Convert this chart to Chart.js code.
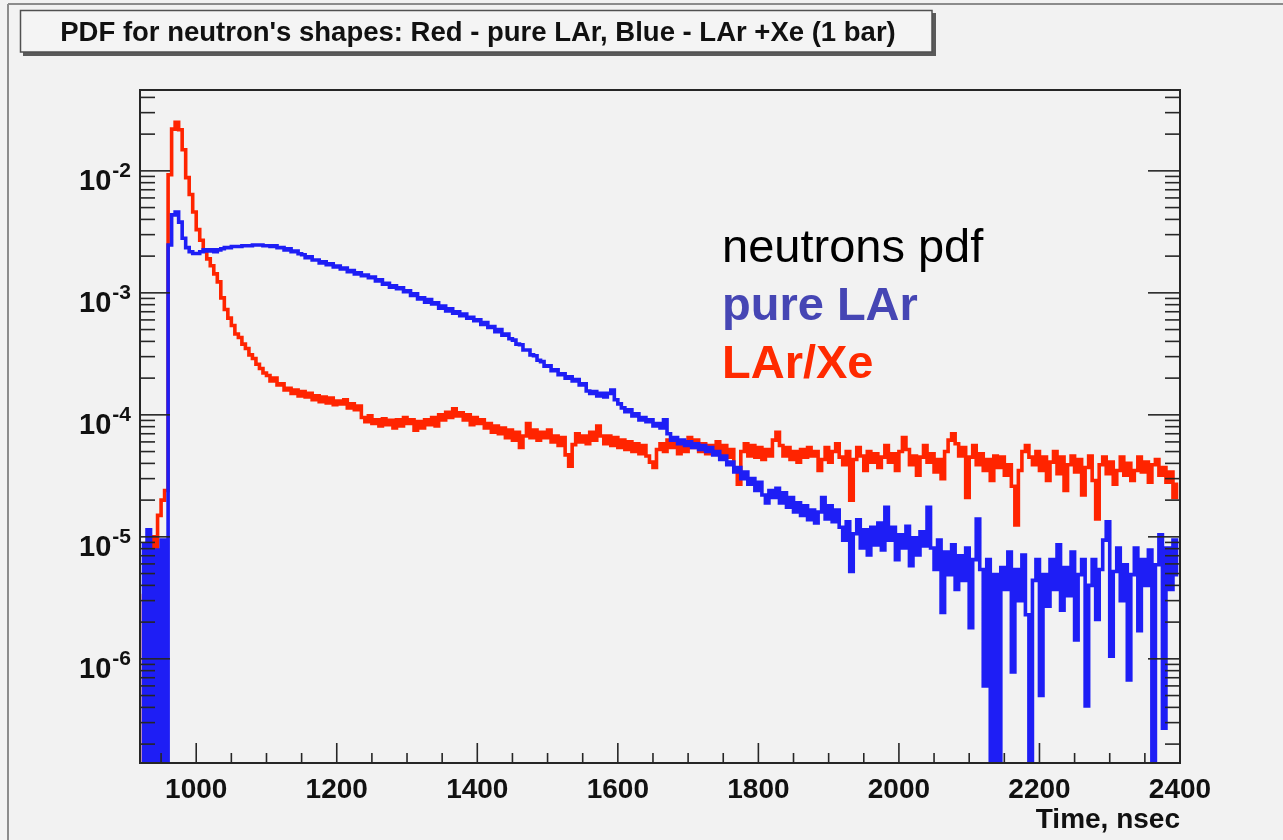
<!DOCTYPE html>
<html><head><meta charset="utf-8">
<script src="https://cdn.jsdelivr.net/npm/chart.js@4.4.1/dist/chart.umd.min.js"></script>
<style>html,body{margin:0;padding:0;background:#f2f2f2;overflow:hidden}canvas{display:block}</style>
</head><body>
<canvas id="c" width="1283" height="840"></canvas>
<script>
// ---- text ----
const titleText = "PDF for neutron's shapes: Red - pure LAr, Blue - LAr +Xe (1 bar)";
const xAxisTitle = "Time, nsec";
const noteLines = ["neutrons pdf", "pure LAr", "LAr/Xe"];
// ---- axes ----
const xTickLabels = [1000, 1200, 1400, 1600, 1800, 2000, 2200, 2400];
const yDecadeExponents = [-2, -3, -4, -5, -6];
const xRange = [920, 2400];
const yRange = [1.4e-7, 0.046];
// ---- histogram binning (5 ns bins from 920 ns) ----
const binStart = 920;
const binWidth = 5;
// ---- red histogram ----
const redValues = [
3.3e-6,0,4.4e-6,1.0e-5,4.9e-6,1.5e-5,2.0e-5,2.4e-5,9.3e-3,0.022,
0.025,0.0217,0.0149,0.0088,0.0064,0.0046,0.0033,0.0027,0.00225,0.0019,
0.00167,0.00143,0.00123,0.00091,0.00073,0.00062,0.00054,0.00046,0.00043,0.00038,
0.00035,0.00031,0.00029,0.00026,0.00024,0.00022,0.00021,0.00019,0.00020,0.000176,
0.00018,0.00016,0.000165,0.00015,0.00016,0.000143,0.000155,0.00014,0.00015,0.000133,
0.000143,0.000128,0.00014,0.000125,0.000137,0.000121,0.00013,0.000123,0.000133,0.000114,
0.000123,0.00011,0.000118,9.5e-5,8.8e-5,9.8e-5,8.5e-5,9.1e-5,8.1e-5,9.3e-5,
8.3e-5,9.0e-5,7.8e-5,9.1e-5,8.1e-5,9.5e-5,8.5e-5,9.1e-5,7.5e-5,8.8e-5,
7.8e-5,9.1e-5,8.3e-5,9.5e-5,8.1e-5,1.0e-4,9.1e-5,1.05e-4,9.5e-5,1.12e-4,
9.8e-5,1.04e-4,9.1e-5,1.0e-4,8.3e-5,9.5e-5,8.5e-5,9.1e-5,7.8e-5,8.5e-5,
7.2e-5,8.1e-5,7.0e-5,7.8e-5,6.5e-5,7.5e-5,6.2e-5,7.2e-5,5.4e-5,6.7e-5,
8.5e-5,6.5e-5,7.5e-5,6.2e-5,7.2e-5,6.5e-5,7.5e-5,6.0e-5,6.7e-5,5.6e-5,
6.5e-5,4.7e-5,3.8e-5,5.7e-5,7.0e-5,6.0e-5,6.7e-5,5.8e-5,7.2e-5,6.2e-5,
8.1e-5,6.7e-5,5.8e-5,6.7e-5,5.6e-5,6.5e-5,5.4e-5,6.2e-5,5.2e-5,6.0e-5,
5.0e-5,5.8e-5,4.8e-5,5.6e-5,4.6e-5,4.1e-5,3.7e-5,5.2e-5,5.8e-5,5.0e-5,
6.2e-5,5.4e-5,6.0e-5,4.8e-5,5.6e-5,5.0e-5,6.5e-5,5.4e-5,6.2e-5,5.0e-5,
5.8e-5,4.8e-5,5.6e-5,5.0e-5,6.0e-5,4.6e-5,5.6e-5,4.5e-5,5.2e-5,3.5e-5,
2.7e-5,5.0e-5,5.8e-5,4.6e-5,5.6e-5,4.5e-5,5.4e-5,4.3e-5,5.2e-5,4.6e-5,
6.2e-5,7.2e-5,5.6e-5,4.6e-5,5.4e-5,4.3e-5,5.0e-5,4.1e-5,5.2e-5,4.5e-5,
5.4e-5,4.6e-5,5.0e-5,3.5e-5,4.3e-5,5.4e-5,4.1e-5,5.0e-5,5.8e-5,4.5e-5,
3.9e-5,5.0e-5,2.0e-5,4.3e-5,5.4e-5,4.6e-5,3.5e-5,5.0e-5,4.1e-5,4.8e-5,
3.7e-5,4.5e-5,5.6e-5,4.1e-5,4.8e-5,3.5e-5,5.0e-5,6.5e-5,5.2e-5,3.9e-5,
4.6e-5,3.2e-5,4.5e-5,5.6e-5,4.1e-5,4.8e-5,3.4e-5,4.3e-5,3.0e-5,5.0e-5,
6.2e-5,7.0e-5,5.8e-5,4.6e-5,5.4e-5,2.1e-5,4.5e-5,5.6e-5,3.9e-5,4.8e-5,
3.5e-5,4.3e-5,2.9e-5,4.6e-5,3.7e-5,4.5e-5,3.2e-5,3.9e-5,2.6e-5,1.25e-5,
3.5e-5,5.0e-5,5.6e-5,4.5e-5,3.9e-5,5.0e-5,3.5e-5,4.5e-5,2.9e-5,4.1e-5,
5.0e-5,3.3e-5,4.5e-5,2.4e-5,3.9e-5,4.6e-5,3.4e-5,4.3e-5,2.2e-5,3.7e-5,
4.6e-5,2.9e-5,1.4e-5,3.9e-5,4.5e-5,3.3e-5,4.1e-5,2.7e-5,3.5e-5,4.5e-5,
3.2e-5,4.0e-5,2.9e-5,3.5e-5,4.5e-5,3.4e-5,4.1e-5,2.8e-5,3.9e-5,4.3e-5,
3.2e-5,3.7e-5,2.8e-5,3.4e-5,2.1e-5,2.7e-5
];
// ---- blue histogram ----
const blueValues = [
8.6e-6,0,1.14e-5,0,7.8e-6,0,9.4e-6,0,2.47e-3,4.36e-3,
4.6e-3,3.8e-3,2.8e-3,2.35e-3,2.17e-3,2.1e-3,2.1e-3,2.17e-3,2.25e-3,2.2e-3,
2.25e-3,2.17e-3,2.25e-3,2.3e-3,2.35e-3,2.35e-3,2.4e-3,2.4e-3,2.4e-3,2.43e-3,
2.43e-3,2.43e-3,2.47e-3,2.47e-3,2.47e-3,2.43e-3,2.43e-3,2.4e-3,2.43e-3,2.35e-3,
2.35e-3,2.25e-3,2.3e-3,2.17e-3,2.2e-3,2.09e-3,2.05e-3,1.94e-3,1.97e-3,1.86e-3,
1.86e-3,1.76e-3,1.8e-3,1.7e-3,1.73e-3,1.63e-3,1.66e-3,1.57e-3,1.6e-3,1.49e-3,
1.52e-3,1.43e-3,1.46e-3,1.38e-3,1.4e-3,1.33e-3,1.35e-3,1.25e-3,1.28e-3,1.18e-3,
1.2e-3,1.11e-3,1.14e-3,1.08e-3,1.1e-3,1.02e-3,1.04e-3,9.5e-4,9.8e-4,8.9e-4,
9.1e-4,8.4e-4,8.8e-4,8.1e-4,8.3e-4,7.5e-4,7.8e-4,7.1e-4,7.4e-4,6.8e-4,
7.0e-4,6.5e-4,6.7e-4,6.2e-4,6.3e-4,5.9e-4,6.0e-4,5.5e-4,5.7e-4,5.2e-4,
5.3e-4,4.8e-4,5.0e-4,4.5e-4,4.6e-4,4.2e-4,4.1e-4,3.8e-4,3.75e-4,3.4e-4,
3.4e-4,3.1e-4,3.05e-4,2.8e-4,2.73e-4,2.5e-4,2.52e-4,2.3e-4,2.34e-4,2.13e-4,
2.17e-4,2.0e-4,2.05e-4,1.9e-4,1.95e-4,1.76e-4,1.8e-4,1.57e-4,1.5e-4,1.55e-4,
1.43e-4,1.5e-4,1.4e-4,1.5e-4,1.6e-4,1.33e-4,1.23e-4,1.14e-4,1.06e-4,1.1e-4,
9.8e-5,1.02e-4,9.1e-5,9.5e-5,8.8e-5,9.1e-5,8.1e-5,8.5e-5,7.8e-5,9.1e-5,
7.0e-5,6.2e-5,6.5e-5,5.8e-5,6.2e-5,5.6e-5,6.0e-5,5.4e-5,5.8e-5,5.2e-5,
5.6e-5,5.0e-5,5.4e-5,4.7e-5,5.0e-5,4.3e-5,4.6e-5,3.9e-5,4.1e-5,3.4e-5,
3.7e-5,3.0e-5,3.4e-5,2.7e-5,3.0e-5,2.4e-5,2.8e-5,2.2e-5,1.9e-5,2.4e-5,
2.1e-5,2.5e-5,1.9e-5,2.3e-5,1.75e-5,2.1e-5,1.6e-5,1.9e-5,1.5e-5,1.8e-5,
1.38e-5,1.66e-5,1.3e-5,1.6e-5,2.1e-5,1.4e-5,1.8e-5,1.33e-5,1.66e-5,1.2e-5,
9.4e-6,1.33e-5,5.2e-6,1.06e-5,1.38e-5,8.1e-6,1.14e-5,7.1e-6,1.2e-5,8.6e-6,
1.3e-5,7.8e-6,1.75e-5,9.4e-6,1.2e-5,6.5e-6,1.04e-5,8.1e-6,1.22e-5,5.8e-6,
9.8e-6,7.1e-6,1.1e-5,8.4e-6,1.75e-5,8.1e-6,5.4e-6,9.4e-6,2.4e-6,7.5e-6,
4.9e-6,8.6e-6,3.7e-6,7.0e-6,4.4e-6,8.1e-6,1.8e-6,6.5e-6,1.4e-5,5.4e-6,
6.0e-7,6.5e-6,0,4.9e-6,0,5.6e-6,3.7e-6,7.5e-6,7.8e-7,5.4e-6,
3.0e-6,7.1e-6,2.3e-6,0,4.4e-6,6.5e-6,5.0e-7,4.9e-6,2.7e-6,6.5e-6,
3.7e-6,8.6e-6,2.5e-6,5.6e-6,3.3e-6,7.5e-6,1.43e-6,4.9e-6,6.5e-6,4.1e-7,
4.0e-6,6.5e-6,2.1e-6,5.4e-6,9.4e-6,1.33e-5,1.05e-6,5.2e-6,8.1e-6,3.0e-6,
5.9e-6,6.7e-7,4.9e-6,8.1e-6,1.7e-6,6.5e-6,4.0e-6,7.8e-6,0,5.9e-6,
1.04e-5,2.7e-7,8.1e-6,3.7e-6,9.4e-6,4.9e-6
];

const FONT = '"Liberation Sans", Arial, Helvetica, sans-serif';
const binCenters = redValues.map((_, i) => binStart + (i + 0.5) * binWidth);
// empty bins are placed below the axis floor so the step line drops out of the frame
const toPoints = vals => vals.map((v, i) => ({ x: binCenters[i], y: v > 0 ? v : yRange[0] / 10 }));

function seg(ctx, x1, y1, x2, y2) { ctx.beginPath(); ctx.moveTo(x1, y1); ctx.lineTo(x2, y2); ctx.stroke(); }

const rootLook = {
  id: 'rootLook',
  beforeDraw(chart) {
    const ctx = chart.ctx;
    ctx.save();
    ctx.fillStyle = '#f2f2f2';
    ctx.fillRect(0, 0, chart.width, chart.height);
    ctx.strokeStyle = '#8c8c8c'; ctx.lineWidth = 2;
    seg(ctx, 8, chart.height, 8, 4); seg(ctx, 8, 4, chart.width, 4);
    ctx.restore();
  },
  afterDraw(chart) {
    const ctx = chart.ctx, a = chart.chartArea, xs = chart.scales.x, ys = chart.scales.y;
    ctx.save();
    // frame
    ctx.strokeStyle = '#262626'; ctx.lineWidth = 2;
    ctx.strokeRect(a.left, a.top, a.right - a.left, a.bottom - a.top);
    // y ticks (log, inside, both sides)
    ctx.lineWidth = 1.6;
    for (let e = -8; e <= -1; e++) {
      for (let m = 1; m <= 9; m++) {
        const v = m * Math.pow(10, e);
        if (v < ys.min || v > ys.max) continue;
        const py = ys.getPixelForValue(v);
        seg(ctx, a.left, py, a.left + (m === 1 ? 30 : 15), py);
        seg(ctx, a.right, py, a.right - (m === 1 ? 32 : 15), py);
      }
    }
    // x ticks
    for (let t = Math.ceil(xs.min / 50) * 50; t <= xs.max; t += 50) {
      const px = xs.getPixelForValue(t);
      seg(ctx, px, a.bottom, px, a.bottom - (t % 200 === 0 ? 20 : 10));
    }
    // y labels 10^n
    ctx.fillStyle = '#111';
    ctx.textBaseline = 'alphabetic';
    ctx.textAlign = 'left';
    for (const e of yDecadeExponents) {
      const py = ys.getPixelForValue(Math.pow(10, e));
      const expTxt = String(e);
      ctx.font = 'bold 21px ' + FONT;
      const ew = ctx.measureText(expTxt).width;
      const right = 131;
      ctx.fillText(expTxt, right - ew, py + 6);
      ctx.font = 'bold 29px ' + FONT;
      const bw = ctx.measureText('10').width;
      ctx.fillText('10', right - ew - 1 - bw, py + 19);
    }
    // x labels
    ctx.font = 'bold 28px ' + FONT;
    ctx.textAlign = 'center';
    for (const t of xTickLabels) {
      ctx.fillText(String(t), xs.getPixelForValue(t), a.bottom + 35);
    }
    ctx.textAlign = 'right';
    ctx.fillText(xAxisTitle, a.right, 828);
    // title box
    ctx.fillStyle = '#5a5a5a';
    ctx.fillRect(23, 52, 913, 4);
    ctx.fillRect(932, 13, 4, 43);
    ctx.fillStyle = '#f4f4f4';
    ctx.fillRect(20, 10, 912, 42);
    ctx.strokeStyle = '#505050'; ctx.lineWidth = 1.5;
    ctx.strokeRect(20.5, 10.5, 911.5, 41.5);
    ctx.fillStyle = '#111';
    ctx.textAlign = 'center';
    ctx.font = 'bold 27.5px ' + FONT;
    ctx.fillText(titleText, 478, 41);
    // annotation
    ctx.textAlign = 'left';
    ctx.font = '47px ' + FONT; ctx.fillStyle = '#000';
    ctx.fillText(noteLines[0], 722, 262);
    ctx.font = 'bold 47px ' + FONT; ctx.fillStyle = '#4646b4';
    ctx.fillText(noteLines[1], 722, 320);
    ctx.fillStyle = '#ff2a00';
    ctx.fillText(noteLines[2], 722, 378);
    ctx.restore();
  }
};

new Chart(document.getElementById('c'), {
  type: 'line',
  data: {
    datasets: [
      { label: 'red', data: toPoints(redValues), borderColor: '#ff2400', borderWidth: 3.6, stepped: 'middle', pointRadius: 0, order: 2 },
      { label: 'blue', data: toPoints(blueValues), borderColor: '#1e1ef5', borderWidth: 3.6, stepped: 'middle', pointRadius: 0, order: 1 }
    ]
  },
  options: {
    responsive: false,
    animation: false,
    events: [],
    layout: { padding: { left: 140, right: 103, top: 90, bottom: 77 } },
    scales: {
      x: { type: 'linear', min: xRange[0], max: xRange[1], display: false },
      y: { type: 'logarithmic', min: yRange[0], max: yRange[1], display: false }
    },
    plugins: { legend: { display: false }, tooltip: { enabled: false }, title: { display: false } }
  },
  plugins: [rootLook]
});
</script>
</body></html>
